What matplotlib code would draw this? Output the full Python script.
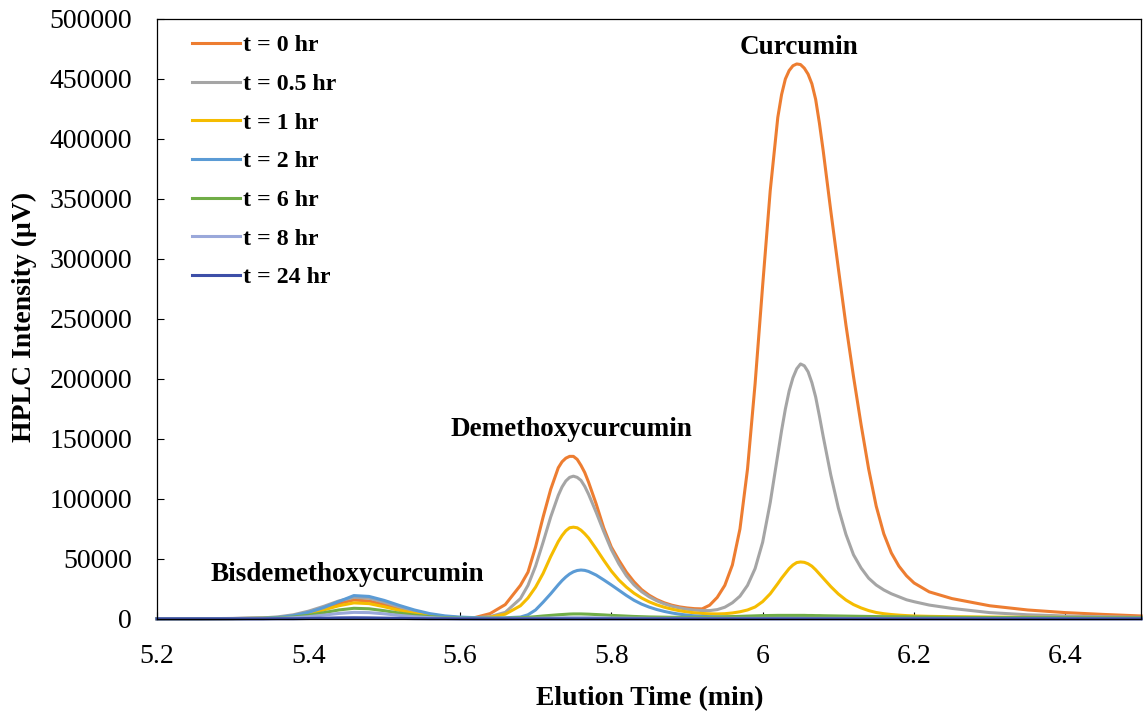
import numpy as np
import matplotlib
matplotlib.use("Agg")
import matplotlib.pyplot as plt
from matplotlib.ticker import FuncFormatter

plt.rcParams["font.family"] = ["Liberation Serif", "DejaVu Serif"]

# ========= data: HPLC traces (intensity in 10^3 uV) =========
elution_time = [
    5.20, 5.25, 5.30, 5.34, 5.36, 5.38, 5.40, 5.42, 5.44, 5.46,
    5.48, 5.50, 5.52, 5.54, 5.56, 5.58, 5.60, 5.62, 5.64, 5.66,
    5.68, 5.69, 5.70, 5.71, 5.72, 5.73, 5.735, 5.74, 5.745, 5.75,
    5.755, 5.76, 5.765, 5.77, 5.78, 5.79, 5.80, 5.81, 5.82, 5.83,
    5.84, 5.85, 5.86, 5.87, 5.88, 5.89, 5.90, 5.91, 5.92, 5.93,
    5.94, 5.95, 5.96, 5.97, 5.98, 5.99, 6.00, 6.01, 6.02, 6.025,
    6.03, 6.035, 6.04, 6.045, 6.05, 6.055, 6.06, 6.065, 6.07, 6.075,
    6.08, 6.09, 6.10, 6.11, 6.12, 6.13, 6.14, 6.15, 6.16, 6.17,
    6.18, 6.19, 6.20, 6.22, 6.25, 6.30, 6.35, 6.40, 6.45, 6.50,
]

t_0hr = [
    0.3, 0.3, 0.4, 0.7, 1.2, 2.5, 5.0, 8.8, 13.0, 15.8,
    15.0, 12.0, 8.5, 5.5, 3.2, 1.8, 1.0, 1.2, 4.5, 12.0,
    28.0, 39.0, 60.0, 85.0, 108.0, 126.0, 131.0, 134.0, 135.5, 135.5,
    133.0, 128.0, 122.0, 114.0, 96.0, 76.0, 60.0, 49.0, 39.0, 31.0,
    24.5, 19.8, 16.2, 13.5, 11.5, 10.1, 9.2, 8.6, 8.4, 11.5,
    18.0, 28.0, 45.0, 75.0, 125.0, 196.0, 278.0, 357.0, 418.0, 437.0,
    450.0, 457.0, 461.0, 462.5, 462.0, 459.0, 454.0, 446.0, 433.0, 413.0,
    390.0, 340.0, 292.0, 245.0, 202.0, 162.0, 125.0, 94.0, 71.0, 55.0,
    44.0, 36.0, 30.0, 22.6, 17.0, 11.0, 7.5, 5.3, 3.8, 2.5,
]

t_05hr = [
    0.2, 0.2, 0.4, 0.9, 1.8, 3.5, 6.5, 10.5, 15.0, 18.0,
    17.3, 14.0, 10.0, 6.5, 3.8, 2.0, 1.1, 0.9, 2.0, 5.5,
    17.0, 28.0, 44.0, 64.0, 85.0, 103.0, 110.0, 115.0, 118.0, 119.0,
    118.0, 115.5, 110.5, 104.0, 89.0, 73.0, 58.0, 46.0, 36.0, 28.5,
    22.8, 18.5, 15.2, 12.6, 10.6, 9.2, 8.1, 7.4, 7.0, 7.0,
    7.8, 9.8, 13.5, 19.0, 28.0, 42.0, 64.0, 97.0, 137.0, 157.0,
    175.0, 190.0, 201.0, 208.5, 212.5, 211.0, 206.0, 197.0, 185.0, 169.0,
    152.0, 120.0, 92.5, 70.5, 53.5, 42.5, 34.0, 28.3, 24.2, 21.0,
    18.5, 16.0, 14.4, 11.6, 8.8, 5.3, 3.5, 2.5, 1.9, 1.3,
]

t_1hr = [
    0.2, 0.2, 0.3, 0.6, 1.1, 2.2, 4.3, 7.5, 11.0, 13.4,
    12.8, 10.2, 7.2, 4.6, 2.7, 1.5, 0.9, 0.7, 1.5, 4.0,
    11.0, 17.5, 26.5, 38.0, 52.0, 64.5, 69.5, 73.5, 76.0, 76.5,
    76.0, 74.0, 71.0, 67.5, 58.5, 49.0, 40.0, 32.5, 26.5, 21.5,
    17.5, 14.3, 11.8, 9.8, 8.2, 6.9, 5.9, 5.1, 4.6, 4.3,
    4.2, 4.4, 5.0, 6.0, 7.5, 10.0, 14.5, 21.0, 29.5, 34.0,
    38.0, 42.0, 45.0, 47.0, 47.5, 47.2, 46.0, 44.0, 41.0, 37.5,
    34.0, 27.0, 20.8, 15.8, 12.0, 9.2, 7.0, 5.4, 4.4, 3.7,
    3.2, 2.8, 2.5, 2.2, 1.9, 1.6, 1.4, 1.3, 1.2, 1.1,
]

t_2hr = [
    0.3, 0.3, 0.4, 0.7, 1.3, 2.8, 5.5, 9.5, 14.5, 19.5,
    18.8, 15.5, 11.3, 7.5, 4.5, 2.6, 1.6, 1.1, 0.9, 1.0,
    1.6, 3.5, 7.5, 14.0, 21.0, 28.5, 32.0, 35.0, 37.5, 39.3,
    40.4, 40.8, 40.5, 39.6, 36.6, 32.6, 28.4, 24.0, 19.6, 15.6,
    12.4, 9.9, 7.9, 6.3, 5.0, 4.0, 3.2, 2.6, 2.2, 1.9,
    1.7, 1.6, 1.6, 1.6, 1.6, 1.6, 1.7, 1.7, 1.8, 1.8,
    1.8, 1.9, 1.9, 1.9, 1.9, 1.9, 1.9, 1.9, 1.8, 1.8,
    1.8, 1.7, 1.7, 1.6, 1.6, 1.5, 1.5, 1.5, 1.4, 1.4,
    1.4, 1.3, 1.3, 1.3, 1.2, 1.1, 1.0, 1.0, 0.9, 0.9,
]

t_6hr = [
    0.2, 0.2, 0.3, 0.5, 0.8, 1.6, 3.0, 5.2, 7.5, 8.9,
    8.5, 6.9, 4.9, 3.2, 1.9, 1.1, 0.7, 0.5, 0.5, 0.6,
    1.0, 1.4, 1.9, 2.5, 3.0, 3.5, 3.7, 3.9, 4.1, 4.2,
    4.2, 4.2, 4.1, 4.0, 3.7, 3.4, 3.0, 2.7, 2.4, 2.1,
    1.9, 1.7, 1.6, 1.5, 1.4, 1.4, 1.4, 1.4, 1.4, 1.5,
    1.6, 1.8, 2.0, 2.2, 2.4, 2.6, 2.8, 2.9, 3.0, 3.0,
    3.0, 3.0, 3.0, 3.0, 3.0, 3.0, 2.9, 2.9, 2.8, 2.8,
    2.7, 2.6, 2.5, 2.4, 2.3, 2.2, 2.1, 2.0, 1.9, 1.8,
    1.7, 1.7, 1.6, 1.5, 1.4, 1.2, 1.1, 1.0, 0.9, 0.8,
]

t_8hr = [
    0.1, 0.1, 0.2, 0.3, 0.5, 1.0, 1.9, 3.2, 4.6, 5.5,
    5.3, 4.3, 3.0, 1.9, 1.1, 0.6, 0.4, 0.3, 0.3, 0.3,
    0.4, 0.5, 0.6, 0.7, 0.8, 0.9, 0.9, 1.0, 1.0, 1.0,
    1.0, 1.0, 1.0, 1.0, 0.9, 0.9, 0.8, 0.7, 0.7, 0.6,
    0.6, 0.5, 0.5, 0.5, 0.5, 0.5, 0.5, 0.5, 0.5, 0.5,
    0.5, 0.5, 0.5, 0.5, 0.5, 0.5, 0.5, 0.5, 0.5, 0.5,
    0.5, 0.5, 0.5, 0.5, 0.5, 0.5, 0.5, 0.5, 0.5, 0.5,
    0.5, 0.5, 0.5, 0.5, 0.4, 0.4, 0.4, 0.4, 0.4, 0.4,
    0.4, 0.4, 0.4, 0.4, 0.4, 0.3, 0.3, 0.3, 0.3, 0.3,
]

t_24hr = [
    0.1, 0.1, 0.1, 0.1, 0.2, 0.2, 0.4, 0.6, 0.9, 1.0,
    0.9, 0.7, 0.5, 0.3, 0.2, 0.2, 0.1, 0.1, 0.1, 0.1,
    0.1, 0.1, 0.1, 0.1, 0.1, 0.1, 0.1, 0.1, 0.1, 0.1,
    0.1, 0.1, 0.1, 0.1, 0.1, 0.1, 0.1, 0.1, 0.1, 0.1,
    0.1, 0.1, 0.1, 0.1, 0.1, 0.1, 0.1, 0.1, 0.1, 0.1,
    0.1, 0.1, 0.1, 0.1, 0.1, 0.1, 0.1, 0.1, 0.1, 0.1,
    0.1, 0.1, 0.1, 0.1, 0.1, 0.1, 0.1, 0.1, 0.1, 0.1,
    0.1, 0.1, 0.1, 0.1, 0.1, 0.1, 0.1, 0.1, 0.1, 0.1,
    0.1, 0.1, 0.1, 0.1, 0.1, 0.1, 0.1, 0.1, 0.1, 0.1,
]

series_labels = ["t = 0 hr", "t = 0.5 hr", "t = 1 hr", "t = 2 hr",
                 "t = 6 hr", "t = 8 hr", "t = 24 hr"]
series_values = [t_0hr, t_05hr, t_1hr, t_2hr, t_6hr, t_8hr, t_24hr]
series_colors = ["#ED7D31", "#A5A5A5", "#F5BC00", "#5B9BD5",
                 "#70AD47", "#9AA8DA", "#3D4FA8"]

# peak names and where they sit (time, intensity in uV)
peak_names = ["Bisdemethoxycurcumin", "Demethoxycurcumin", "Curcumin"]
peak_label_pos = [(5.451, 36700), (5.747, 157500), (6.048, 476500)]


# ========= plot =========
fig = plt.figure(figsize=(11.43, 7.15), dpi=100)
ax = fig.add_axes([0.1374, 0.1343, 0.861, 0.8392])

x = np.array(elution_time)
for label, vals, color in zip(series_labels, series_values, series_colors):
    ax.plot(x, np.array(vals) * 1e3, color=color, lw=2.2, label=label,
            clip_on=False, solid_joinstyle="round")

ax.set_xlim(5.2, 6.5)
ax.set_ylim(0, 500000)
ax.set_xticks([5.2, 5.4, 5.6, 5.8, 6.0, 6.2, 6.4])
ax.set_yticks(range(0, 500001, 50000))
ax.xaxis.set_major_formatter(FuncFormatter(lambda v, p: f"{v:g}"))
ax.yaxis.set_major_formatter(FuncFormatter(lambda v, p: f"{int(v)}"))

ax.tick_params(axis="both", direction="in", length=5, width=0.8,
               labelsize=20, colors="black")
ax.tick_params(axis="y", pad=18)
ax.tick_params(axis="x", pad=18)
for sp in ax.spines.values():
    sp.set_linewidth(0.9)
    sp.set_color("black")

ax.set_xlabel("Elution Time (min)", fontsize=20, fontweight="bold", va="center")
ax.set_ylabel("HPLC Intensity (\u03bcV)", fontsize=20, fontweight="bold", va="center")
ax.xaxis.set_label_coords(0.501, -0.132)
ax.yaxis.set_label_coords(-0.135, 0.503)

for name, (tx, ty) in zip(peak_names, peak_label_pos):
    ax.text(tx, ty, name, ha="center", va="center", fontsize=19.5,
            fontweight="bold")

ax.legend(loc="upper left", bbox_to_anchor=(0.0356, 0.974), frameon=False,
          prop={"family": "Liberation Serif", "weight": "bold", "size": 17.2},
          handlelength=2.0, handletextpad=0.15, labelspacing=0.71,
          borderaxespad=0, borderpad=0)

fig.savefig("out.png", dpi=100)
plt.close(fig)
